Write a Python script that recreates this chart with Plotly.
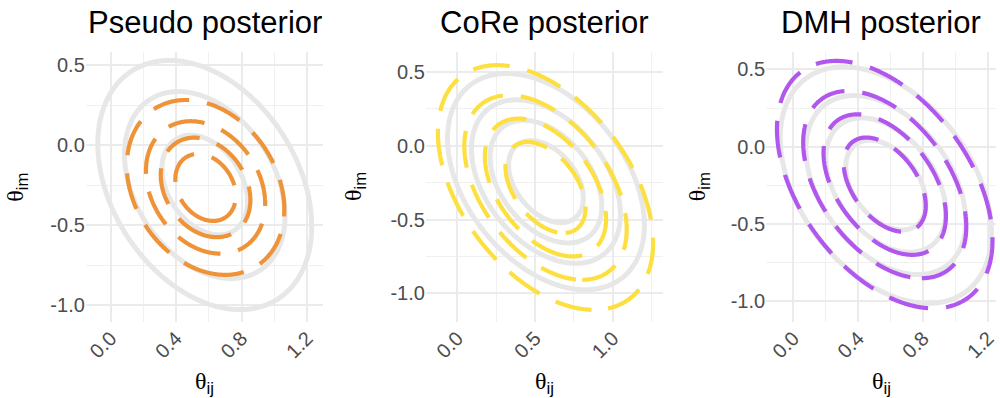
import numpy as np
import plotly.graph_objects as go

# ---------------- data ----------------
PANEL_TITLES = ["Pseudo posterior", "CoRe posterior", "DMH posterior"]

# gray reference posterior (bivariate normal summary) per panel
REF_MEAN_X = [0.575, 0.570, 0.570]
REF_MEAN_Y = [-0.250, -0.243, -0.248]
REF_SD_X = [0.3275, 0.352, 0.362]
REF_SD_Y = [0.390, 0.407, 0.425]
REF_RHO = [-0.33, -0.40, -0.40]
REF_LEVELS = [[0.18, 0.43, 0.96],
              [0.24, 0.48, 0.72, 0.96],
              [0.224, 0.447, 0.67, 0.894]]

# coloured approximate posterior per panel
APX_MEAN_X = [0.580, 0.567, 0.563]
APX_MEAN_Y = [-0.265, -0.283, -0.245]
APX_SD_X = [0.267, 0.386, 0.369]
APX_SD_Y = [0.303, 0.462, 0.444]
APX_RHO = [-0.25, -0.45, -0.45]
APX_LEVELS = [[0.4, 0.8, 1.2, 1.6],
              [0.2, 0.4, 0.6, 0.8],
              [0.215, 0.43, 0.645, 0.86]]
APX_COLORS = ["#EF9339", "#FDDF3F", "#B157EE"]

X_TICKS = [[0.0, 0.4, 0.8, 1.2], [0.0, 0.5, 1.0], [0.0, 0.4, 0.8, 1.2]]
X_TICKTEXT = [["0.0", "0.4", "0.8", "1.2"], ["0.0", "0.5", "1.0"], ["0.0", "0.4", "0.8", "1.2"]]
X_MINOR = [[0.2, 0.6, 1.0], [0.25, 0.75, 1.25], [0.2, 0.6, 1.0]]
Y_TICKS = [0.5, 0.0, -0.5, -1.0]
Y_TICKTEXT = ["0.5", "0.0", "-0.5", "-1.0"]
Y_MINOR = [0.25, -0.25, -0.75]

X_RANGES = [[-0.152, 1.300], [-0.203, 1.323], [-0.168, 1.249]]
Y_RANGES = [[-1.104, 0.583], [-1.192, 0.637], [-1.131, 0.614]]

# ---------------- layout geometry ----------------
W, H = 1000, 398
X_DOMAINS = [[0.086, 0.324], [0.4267, 0.6643], [0.7677, 0.998]]
Y_DOMAIN = [1 - 321.7 / H, 1 - 51.7 / H]


def density(mx, my, sx, sy, rho, gx, gy):
    X, Y = np.meshgrid(gx, gy)
    u = (X - mx) / sx
    v = (Y - my) / sy
    q = (u * u - 2 * rho * u * v + v * v) / (1 - rho ** 2)
    return np.exp(-q / 2) / (2 * np.pi * sx * sy * np.sqrt(1 - rho ** 2))


fig = go.Figure()
for i in range(3):
    xa = "x" if i == 0 else f"x{i+1}"
    ya = "y" if i == 0 else f"y{i+1}"
    gx = np.linspace(X_RANGES[i][0] - 0.3, X_RANGES[i][1] + 0.3, 320)
    gy = np.linspace(Y_RANGES[i][0] - 0.3, Y_RANGES[i][1] + 0.3, 320)
    zr = density(REF_MEAN_X[i], REF_MEAN_Y[i], REF_SD_X[i], REF_SD_Y[i], REF_RHO[i], gx, gy)
    za = density(APX_MEAN_X[i], APX_MEAN_Y[i], APX_SD_X[i], APX_SD_Y[i], APX_RHO[i], gx, gy)
    for lev in REF_LEVELS[i]:
        fig.add_trace(go.Contour(
            x=gx, y=gy, z=zr, xaxis=xa, yaxis=ya, autocontour=False,
            contours=dict(coloring="none", start=lev, end=lev, size=1, showlabels=False),
            line=dict(color="#E7E7E7", width=5, smoothing=1),
            showscale=False, hoverinfo="skip", showlegend=False))
    for lev in APX_LEVELS[i]:
        fig.add_trace(go.Contour(
            x=gx, y=gy, z=za, xaxis=xa, yaxis=ya, autocontour=False,
            contours=dict(coloring="none", start=lev, end=lev, size=1, showlabels=False),
            line=dict(color=APX_COLORS[i], width=4.2, dash="37px,18px", smoothing=1),
            showscale=False, hoverinfo="skip", showlegend=False))

tickfont = dict(family="Liberation Sans, Arial, sans-serif", size=20, color="#4D4D4D")
layout = dict(
    width=W, height=H, margin=dict(l=0, r=0, t=0, b=0),
    paper_bgcolor="white", plot_bgcolor="white", showlegend=False,
)
for i in range(3):
    sx = "" if i == 0 else str(i + 1)
    layout["xaxis" + sx] = dict(
        domain=X_DOMAINS[i], range=X_RANGES[i], anchor="y" + sx,
        tickvals=X_TICKS[i], ticktext=X_TICKTEXT[i], tickangle=-45, tickfont=tickfont,
        showgrid=True, gridcolor="#EBEBEB", gridwidth=1.8, zeroline=False, showline=False,
        ticks="", fixedrange=True,
        minor=dict(tickvals=X_MINOR[i], showgrid=True, gridcolor="#F0F0F0", gridwidth=1),
    )
    layout["yaxis" + sx] = dict(
        domain=Y_DOMAIN, range=Y_RANGES[i], anchor="x" + sx,
        tickvals=Y_TICKS, ticktext=Y_TICKTEXT, tickfont=tickfont,
        showgrid=True, gridcolor="#EBEBEB", gridwidth=1.8, zeroline=False, showline=False,
        ticks="", fixedrange=True,
        minor=dict(tickvals=Y_MINOR, showgrid=True, gridcolor="#F0F0F0", gridwidth=1),
    )
fig.update_layout(**layout)

annotations = []
TITLE_FONT = dict(family="Liberation Sans, Arial, sans-serif", size=31, color="black")
THETA = '<span style="font-family:Liberation Serif">θ</span>'
AXT_FONT = dict(family="Liberation Sans, Arial, sans-serif", size=24, color="black")
Y_TITLE_X = [17, 355, 700]
for i in range(3):
    cx = (X_DOMAINS[i][0] + X_DOMAINS[i][1]) / 2
    annotations.append(dict(text=PANEL_TITLES[i], x=cx, y=1 - 22 / H, xref="paper", yref="paper",
                            xanchor="center", yanchor="middle", showarrow=False, font=TITLE_FONT))
    annotations.append(dict(text=THETA + "<sub>ij</sub>", x=cx, y=1 - 383 / H, xref="paper", yref="paper",
                            xanchor="center", yanchor="middle", showarrow=False, font=AXT_FONT))
    annotations.append(dict(text=THETA + "<sub>im</sub>", x=Y_TITLE_X[i] / W,
                            y=(Y_DOMAIN[0] + Y_DOMAIN[1]) / 2, xref="paper", yref="paper",
                            xanchor="center", yanchor="middle", textangle=-90, showarrow=False,
                            font=AXT_FONT))
fig.update_layout(annotations=annotations)

fig.write_html("out.html")
